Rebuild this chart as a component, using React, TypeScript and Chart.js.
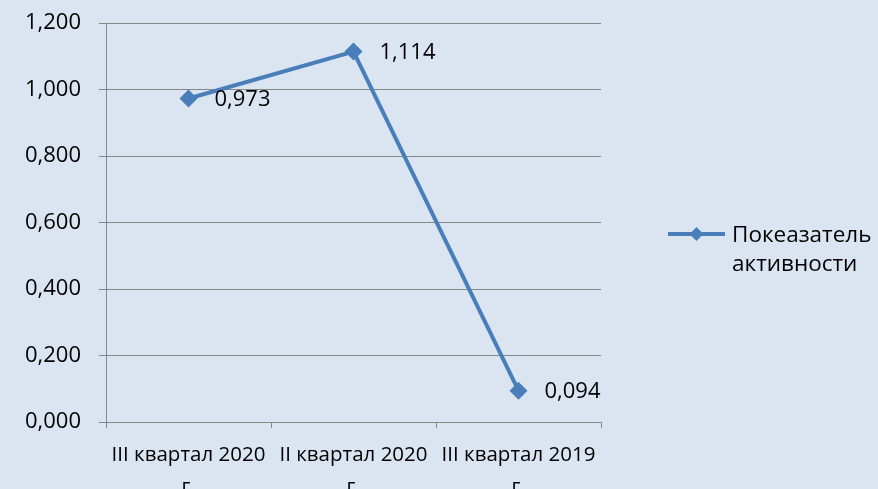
import { useEffect, useRef } from 'react';
import { Chart, registerables } from 'chart.js';

Chart.register(...registerables);

const categories: string[][] = [
  ['III квартал 2020', 'г.'],
  ['II квартал 2020', 'г.'],
  ['III квартал 2019', 'г.'],
];
const values: number[] = [0.973, 1.114, 0.094];
const seriesName = 'Покеазатель активности';
const legendLines: string[] = ['Покеазатель', 'активности'];
const yMin = 0;
const yMax = 1.2;
const yStep = 0.2;

const FONT = '"Open Sans", "Noto Sans", sans-serif';
const LINE_COLOR = '#4a7ebb';
const GRID_COLOR = '#878787';
const BG = '#dbe5f1';

const fmt = (v: number) => v.toFixed(3).replace('.', ',');

const valueLabels = {
  id: 'valueLabels',
  afterDatasetsDraw(chart: any) {
    const ctx = chart.ctx;
    const meta = chart.getDatasetMeta(0);
    ctx.save();
    ctx.font = `22px ${FONT}`;
    ctx.fillStyle = '#000';
    ctx.textAlign = 'left';
    ctx.textBaseline = 'middle';
    meta.data.forEach((pt: any, i: number) => {
      ctx.fillText(fmt(values[i]), pt.x + 26, pt.y + 1);
    });
    ctx.restore();
  },
};

const sideLegend = {
  id: 'sideLegend',
  afterDraw(chart: any) {
    const ctx = chart.ctx;
    const area = chart.chartArea;
    const x0 = area.right + 67;
    const x1 = x0 + 57;
    const y = 234;
    ctx.save();
    ctx.strokeStyle = LINE_COLOR;
    ctx.lineWidth = 4;
    ctx.beginPath();
    ctx.moveTo(x0, y);
    ctx.lineTo(x1, y);
    ctx.stroke();
    const cx = (x0 + x1) / 2;
    const r = 7;
    ctx.fillStyle = LINE_COLOR;
    ctx.beginPath();
    ctx.moveTo(cx, y - r);
    ctx.lineTo(cx + r, y);
    ctx.lineTo(cx, y + r);
    ctx.lineTo(cx - r, y);
    ctx.closePath();
    ctx.fill();
    ctx.font = `22.5px ${FONT}`;
    ctx.fillStyle = '#000';
    ctx.textAlign = 'left';
    ctx.textBaseline = 'middle';
    legendLines.forEach((line, i) => {
      ctx.fillText(line, x1 + 7, y + 2 + i * 29);
    });
    ctx.restore();
  },
};

export default function App() {
  const ref = useRef<HTMLCanvasElement | null>(null);

  useEffect(() => {
    if (!ref.current) return;
    const chart = new Chart(ref.current, {
      type: 'line',
      data: {
        labels: categories,
        datasets: [
          {
            label: seriesName,
            data: values,
            borderColor: LINE_COLOR,
            backgroundColor: LINE_COLOR,
            borderWidth: 4,
            pointStyle: 'rectRot',
            pointRadius: 9,
            pointBorderWidth: 0,
            pointBackgroundColor: LINE_COLOR,
            tension: 0,
          },
        ],
      },
      options: {
        responsive: false,
        animation: false,
        devicePixelRatio: 1,
        layout: { padding: { top: 23, right: 277, left: 0, bottom: 0 } },
        plugins: {
          legend: { display: false },
          tooltip: { enabled: false },
        },
        scales: {
          x: {
            offset: true,
            grid: {
              display: true,
              offset: true,
              drawOnChartArea: false,
              drawTicks: true,
              tickLength: 6,
              color: GRID_COLOR,
              lineWidth: 1,
            },
            border: { display: true, color: GRID_COLOR, width: 1 },
            ticks: {
              color: '#000',
              font: { family: FONT, size: 20.5, lineHeight: 1.52 },
              padding: 12,
              maxRotation: 0,
              autoSkip: false,
            },
            afterFit: (scale: any) => {
              scale.height = 67;
            },
          },
          y: {
            min: yMin,
            max: yMax,
            grid: {
              color: GRID_COLOR,
              lineWidth: 1,
              tickLength: 7,
              drawTicks: true,
            },
            border: { display: true, color: GRID_COLOR, width: 1 },
            ticks: {
              stepSize: yStep,
              color: '#000',
              font: { family: FONT, size: 22 },
              padding: 18,
              callback: (v: any) => fmt(Number(v)),
            },
            afterFit: (scale: any) => {
              scale.width = 106;
              scale.paddingTop = 10;
              scale.paddingBottom = 10;
            },
          },
        },
      },
      plugins: [valueLabels, sideLegend],
    });
    return () => chart.destroy();
  }, []);

  return (
    <div
      style={{
        position: 'absolute',
        left: 0,
        top: 0,
        width: 878,
        height: 489,
        overflow: 'hidden',
        background: BG,
      }}
    >
      <canvas ref={ref} width={878} height={489} style={{ display: 'block' }} />
    </div>
  );
}
